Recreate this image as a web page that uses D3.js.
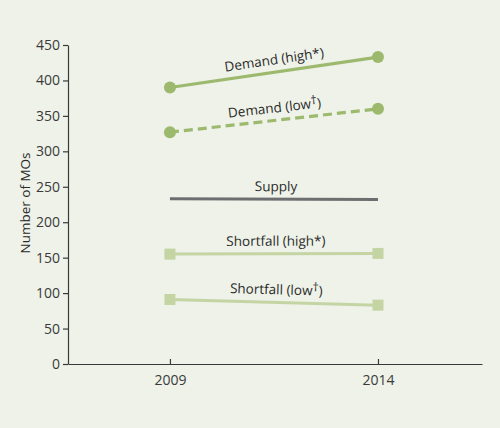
<!DOCTYPE html>
<html>
<head>
<meta charset="utf-8">
<script src="https://cdn.jsdelivr.net/npm/d3@7"></script>
<style>
  body { margin: 0; background: #eef2e8; }
  svg { display: block; font-family: "Open Sans", sans-serif; }
  .axis path, .axis line { stroke: #3a3a3a; stroke-width: 1.2; }
  .axis text { font-size: 14px; fill: #3a3a3a; font-family: "Open Sans", sans-serif; }
  .lbl { font-size: 13.5px; fill: #2a2a2a; }
</style>
</head>
<body>
<svg width="500" height="428"></svg>
<script>
// datos
const years = [2009, 2014];
const demandHigh = [390, 433];
const demandLow = [327, 360];
const supply = [233, 232];
const shortfallHigh = [155, 156];
const shortfallLow = [91, 83];
const yTicks = [0, 50, 100, 150, 200, 250, 300, 350, 400, 450];

const series = [
  { name: 'Demand (high', sup: '', tail: '*)', values: demandHigh, color: '#9cb96e', width: 3.2, dash: null, marker: 'circle' },
  { name: 'Demand (low', sup: '†', tail: ')', values: demandLow, color: '#9cb96e', width: 3.2, dash: '9,5', marker: 'circle' },
  { name: 'Supply', sup: '', tail: '', values: supply, color: '#6d6e70', width: 3, dash: null, marker: null },
  { name: 'Shortfall (high', sup: '', tail: '*)', values: shortfallHigh, color: '#c4d5a3', width: 3, dash: null, marker: 'square' },
  { name: 'Shortfall (low', sup: '†', tail: ')', values: shortfallLow, color: '#c4d5a3', width: 3, dash: null, marker: 'square' }
];

const svg = d3.select('svg');

const x = d3.scaleLinear().domain([2006.55, 2016.5]).range([68, 482]);
const y = d3.scaleLinear().domain([0, 450]).range([364, 45]);

// ejes
svg.append('g')
  .attr('class', 'axis')
  .attr('transform', 'translate(0,364)')
  .call(d3.axisBottom(x).tickValues(years).tickFormat(d3.format('d')).tickSize(-5).tickSizeOuter(0).tickPadding(11));

svg.append('g')
  .attr('class', 'axis')
  .attr('transform', 'translate(68,0)')
  .call(d3.axisLeft(y).tickValues(yTicks).tickSize(5).tickSizeOuter(0).tickPadding(3));

svg.append('text')
  .attr('transform', 'translate(30,203) rotate(-90)')
  .attr('text-anchor', 'middle')
  .attr('class', 'lbl')
  .text('Number of MOs');

const line = d3.line().x((d, i) => x(years[i])).y(d => y(d));

const g = svg.append('g');

series.forEach(s => {
  g.append('path')
    .datum(s.values)
    .attr('d', line)
    .attr('fill', 'none')
    .attr('stroke', s.color)
    .attr('stroke-width', s.width)
    .attr('stroke-dasharray', s.dash);

  if (s.marker === 'circle') {
    g.selectAll(null).data(s.values).enter().append('circle')
      .attr('cx', (d, i) => x(years[i]))
      .attr('cy', d => y(d))
      .attr('r', 6)
      .attr('fill', s.color);
  } else if (s.marker === 'square') {
    g.selectAll(null).data(s.values).enter().append('rect')
      .attr('x', (d, i) => x(years[i]) - 5.5)
      .attr('y', d => y(d) - 5.5)
      .attr('width', 11)
      .attr('height', 11)
      .attr('fill', s.color);
  }

  // etiqueta sobre la linea, girada con la pendiente
  const x0 = x(years[0]), x1 = x(years[1]);
  const y0 = y(s.values[0]), y1 = y(s.values[1]);
  const ang = Math.atan2(y1 - y0, x1 - x0) * 180 / Math.PI;
  const t = g.append('text')
    .attr('class', 'lbl')
    .attr('text-anchor', 'middle')
    .attr('transform', `translate(${(x0 + x1) / 2 + 2},${(y0 + y1) / 2}) rotate(${ang})`)
    .attr('y', -8);
  t.append('tspan').text(s.name);
  if (s.sup) t.append('tspan').attr('dy', -4).attr('font-size', 12).text(s.sup);
  if (s.tail) t.append('tspan').attr('dy', s.sup ? 4 : 0).text(s.tail);
});
</script>
</body>
</html>
